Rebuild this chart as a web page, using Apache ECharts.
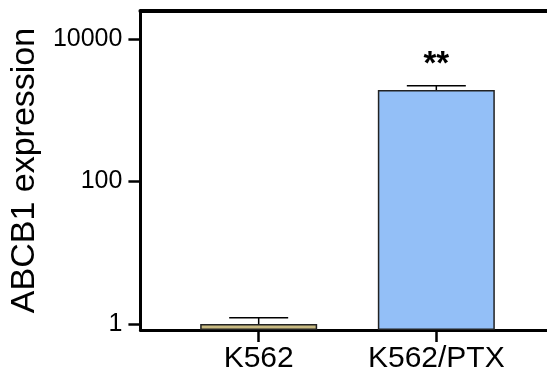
<!DOCTYPE html>
<html><head><meta charset="utf-8">
<script src="https://cdn.jsdelivr.net/npm/echarts@6/dist/echarts.min.js"></script>
<style>html,body{margin:0;padding:0;background:#fff}#c{width:547px;height:382px}</style>
</head><body><div id="c"></div>
<script>
var categories = ['K562', 'K562/PTX'];
var catPos = [1, 2];
var values = [1.0, 1924];
var errUpper = [1.22, 2211];
var sigLabels = ['', '**'];
var yTicks = [1, 100, 10000];
var barColors = ['#c9bb83', '#93bff7'];

var chart = echarts.init(document.getElementById('c'), null, {renderer: 'canvas'});
var font = 'Liberation Sans, Arial, sans-serif';
var yMin = 0.8237, yMax = 24720;
var xMin = 0.3343, xMax = 2.623;

chart.setOption({
  animation: false,
  grid: {left: 140, right: 0, top: 11, bottom: 52},
  xAxis: [{
    type: 'value', min: xMin, max: xMax,
    splitLine: {show: false},
    axisLine: {show: true, onZero: false, lineStyle: {color: '#000', width: 3}},
    axisTick: {show: true, length: 12, lineStyle: {color: '#000', width: 2.5}, customValues: catPos},
    axisLabel: {customValues: catPos, margin: 14, fontFamily: font, fontSize: 30, color: '#000',
      formatter: function (v) { var i = catPos.indexOf(v); return i >= 0 ? categories[i] : ''; }}
  }, {
    type: 'value', min: xMin, max: xMax, position: 'top',
    splitLine: {show: false},
    axisLine: {show: true, onZero: false, lineStyle: {color: '#000', width: 4}},
    axisTick: {show: false}, axisLabel: {show: false}
  }],
  yAxis: {
    type: 'log', min: yMin, max: yMax, startValue: yMin,
    splitLine: {show: false},
    name: 'ABCB1 expression', nameLocation: 'middle', nameGap: 86,
    nameTextStyle: {fontFamily: font, fontSize: 34, color: '#000'},
    axisLine: {show: true, onZero: false, lineStyle: {color: '#000', width: 3}},
    axisTick: {show: true, length: 12, lineStyle: {color: '#000', width: 2.5}, customValues: yTicks},
    axisLabel: {customValues: yTicks, margin: 18, fontFamily: font, fontSize: 25, color: '#000',
      formatter: function (v) { return String(Math.round(v)); }}
  },
  series: [{
    type: 'bar',
    barWidth: 117,
    data: values.map(function (v, i) {
      return {value: [catPos[i], v], itemStyle: {color: barColors[i]}};
    }),
    itemStyle: {borderColor: '#222', borderWidth: 1.5},
    label: {show: true, position: 'top', distance: 9,
      formatter: function (p) { return sigLabels[p.dataIndex]; },
      fontFamily: font, fontSize: 33, fontWeight: 'bold', color: '#000'},
    z: 2
  }, {
    type: 'custom',
    data: values.map(function (v, i) { return [catPos[i], v, errUpper[i]]; }),
    renderItem: function (params, api) {
      var x = api.value(0);
      var base = api.coord([x, api.value(1)]);
      var top = api.coord([x, api.value(2)]);
      var half = 29.5;
      return {type: 'group', children: [
        {type: 'line', shape: {x1: base[0], y1: base[1], x2: top[0], y2: top[1]}, style: {stroke: '#000', lineWidth: 1.5}},
        {type: 'line', shape: {x1: top[0] - half, y1: top[1], x2: top[0] + half, y2: top[1]}, style: {stroke: '#000', lineWidth: 1.5}}
      ]};
    },
    z: 1
  }]
});
</script></body></html>
